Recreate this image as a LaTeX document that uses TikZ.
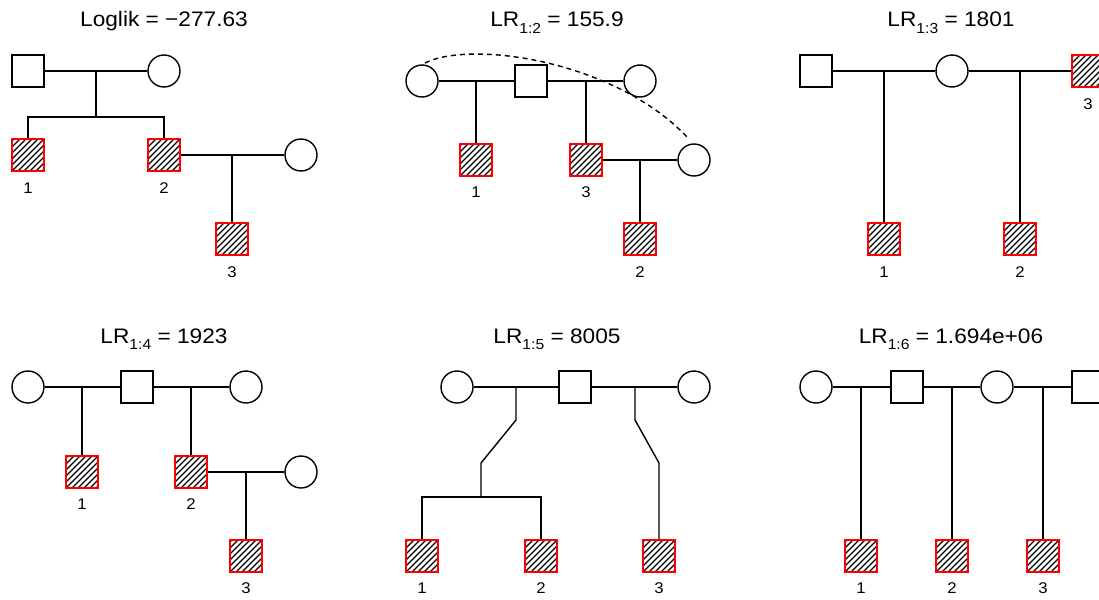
\documentclass[tikz,border=0pt]{standalone}
\usepackage{fontspec}
\setmainfont{Liberation Sans}[FakeStretch=1.08]
\newcommand{\LRsub}[1]{LR\raisebox{-0.3em}{\fontsize{14.5}{15}\selectfont #1}}
\tikzset{
  ln/.style={line width=1.4pt, black},
  male/.style={rectangle, draw, line width=1.4pt, minimum size=32pt, inner sep=0pt},
  female/.style={circle, draw, line width=1.4pt, minimum size=32pt, inner sep=0pt},
  aff/.style={rectangle, draw=red, line width=1.2pt, minimum size=32pt, inner sep=0pt,
    path picture={\foreach \k in {-7,...,7}{\draw[black, line width=1.1pt]
      ([xshift=\k*6pt]path picture bounding box.south west) -- ++(40pt,40pt);}}},
  lbl/.style={font=\fontsize{15.5}{16}\selectfont, inner sep=0pt},
  ttl/.style={font=\fontsize{21}{22}\selectfont, inner sep=0pt, anchor=base},
}
\begin{document}
\begin{tikzpicture}[x=1pt, y=-1pt]
\useasboundingbox (0,0) rectangle (1099,599);
\fill[white] (0,0) rectangle (1099,599);

% ---------- Panel 1 ----------
\node[ttl] (t1) at (164,27) {Loglik = −277.63};
\node[male] (p1f) at (28,71) {};
\node[female] (p1m) at (164,71) {};
\node[aff] (p1c1) at (28,155) {};
\node[aff] (p1c2) at (164,155) {};
\node[female] (p1s) at (301,155) {};
\node[aff] (p1c3) at (232,239) {};
\node[lbl] (p1l1) at (28,188) {1};
\node[lbl] (p1l2) at (164,188) {2};
\node[lbl] (p1l3) at (232,272) {3};
\coordinate (p1d) at (96,71);
\coordinate (p1sib) at (96,117);
\draw[ln] (p1f) -- (p1m);
\draw[ln] (p1d) -- (p1sib);
\draw[ln] (p1c1.north) -- (p1c1.north |- p1sib) -- (p1c2.north |- p1sib) -- (p1c2.north);
\draw[ln] (p1c2) -- (p1s);
\draw[ln] (p1c3.north |- p1s) -- (p1c3.north);

% ---------- Panel 2 ----------
\node[ttl] (t2) at (557,27) {\LRsub{1:2} = 155.9};
\node[female] (p2a) at (422,81) {};
\node[male] (p2b) at (531,81) {};
\node[female] (p2c) at (640,81) {};
\node[aff] (p2c1) at (476,160) {};
\node[aff] (p2c3) at (586,160) {};
\node[female] (p2s) at (694,160) {};
\node[aff] (p2c2) at (640,239) {};
\node[lbl] (p2l1) at (476,192) {1};
\node[lbl] (p2l3) at (586,192) {3};
\node[lbl] (p2l2) at (640,272) {2};
\draw[ln] (p2a) -- (p2b);
\draw[ln] (p2b) -- (p2c);
\draw[ln] (p2c1.north |- p2a) -- (p2c1.north);
\draw[ln] (p2c3.north |- p2a) -- (p2c3.north);
\draw[ln] (p2c3) -- (p2s);
\draw[ln] (p2c2.north |- p2s) -- (p2c2.north);
\coordinate (p2d1) at (425,63);
\coordinate (p2d2) at (688,138);
\draw[ln, dash pattern=on 5pt off 4pt] (p2d1) .. controls (470,40) and (615,60) .. (p2d2);

% ---------- Panel 3 ----------
\node[ttl] (t3) at (951,27) {\LRsub{1:3} = 1801};
\node[male] (p3f) at (816,71) {};
\node[female] (p3m) at (952,71) {};
\node[aff] (p3c3) at (1088,71) {};
\node[aff] (p3c1) at (884,239) {};
\node[aff] (p3c2) at (1020,239) {};
\node[lbl] (p3l3) at (1088,104) {3};
\node[lbl] (p3l1) at (884,272) {1};
\node[lbl] (p3l2) at (1020,272) {2};
\draw[ln] (p3f) -- (p3m);
\draw[ln] (p3m) -- (p3c3);
\draw[ln] (p3c1.north |- p3f) -- (p3c1.north);
\draw[ln] (p3c2.north |- p3f) -- (p3c2.north);

% ---------- Panel 4 ----------
\node[ttl] (t4) at (164,343) {\LRsub{1:4} = 1923};
\node[female] (p4a) at (28,387) {};
\node[male] (p4b) at (137,387) {};
\node[female] (p4c) at (246,387) {};
\node[aff] (p4c1) at (82,472) {};
\node[aff] (p4c2) at (191,472) {};
\node[female] (p4s) at (301,472) {};
\node[aff] (p4c3) at (246,556) {};
\node[lbl] (p4l1) at (82,504) {1};
\node[lbl] (p4l2) at (191,504) {2};
\node[lbl] (p4l3) at (246,588) {3};
\draw[ln] (p4a) -- (p4b);
\draw[ln] (p4b) -- (p4c);
\draw[ln] (p4c1.north |- p4a) -- (p4c1.north);
\draw[ln] (p4c2.north |- p4a) -- (p4c2.north);
\draw[ln] (p4c2) -- (p4s);
\draw[ln] (p4c3.north |- p4s) -- (p4c3.north);

% ---------- Panel 5 ----------
\node[ttl] (t5) at (557,343) {\LRsub{1:5} = 8005};
\node[female] (p5a) at (457,387) {};
\node[male] (p5b) at (575,387) {};
\node[female] (p5c) at (694,387) {};
\node[aff] (p5c1) at (422,556) {};
\node[aff] (p5c2) at (541,556) {};
\node[aff] (p5c3) at (659,556) {};
\node[lbl] (p5l1) at (422,588) {1};
\node[lbl] (p5l2) at (541,588) {2};
\node[lbl] (p5l3) at (659,588) {3};
\draw[ln] (p5a) -- (p5b);
\draw[ln] (p5b) -- (p5c);
\coordinate (p5k1) at (516,420);
\coordinate (p5k2) at (481,463);
\coordinate (p5sib) at (481,497);
\draw[ln] (p5k1 |- p5a) -- (p5k1) -- (p5k2) -- (p5sib);
\draw[ln] (p5c1.north) -- (p5c1.north |- p5sib) -- (p5c2.north |- p5sib) -- (p5c2.north);
\coordinate (p5k3) at (635,420);
\coordinate (p5k4) at (659,463);
\draw[ln] (p5k3 |- p5a) -- (p5k3) -- (p5k4) -- (p5c3.north);

% ---------- Panel 6 ----------
\node[ttl] (t6) at (951,343) {\LRsub{1:6} = 1.694e+06};
\node[female] (p6a) at (816,387) {};
\node[male] (p6b) at (907,387) {};
\node[female] (p6c) at (997,387) {};
\node[male] (p6d) at (1088,387) {};
\node[aff] (p6c1) at (861,556) {};
\node[aff] (p6c2) at (952,556) {};
\node[aff] (p6c3) at (1043,556) {};
\node[lbl] (p6l1) at (861,588) {1};
\node[lbl] (p6l2) at (952,588) {2};
\node[lbl] (p6l3) at (1043,588) {3};
\draw[ln] (p6a) -- (p6b);
\draw[ln] (p6b) -- (p6c);
\draw[ln] (p6c) -- (p6d);
\draw[ln] (p6c1.north |- p6a) -- (p6c1.north);
\draw[ln] (p6c2.north |- p6a) -- (p6c2.north);
\draw[ln] (p6c3.north |- p6a) -- (p6c3.north);
\end{tikzpicture}
\end{document}
